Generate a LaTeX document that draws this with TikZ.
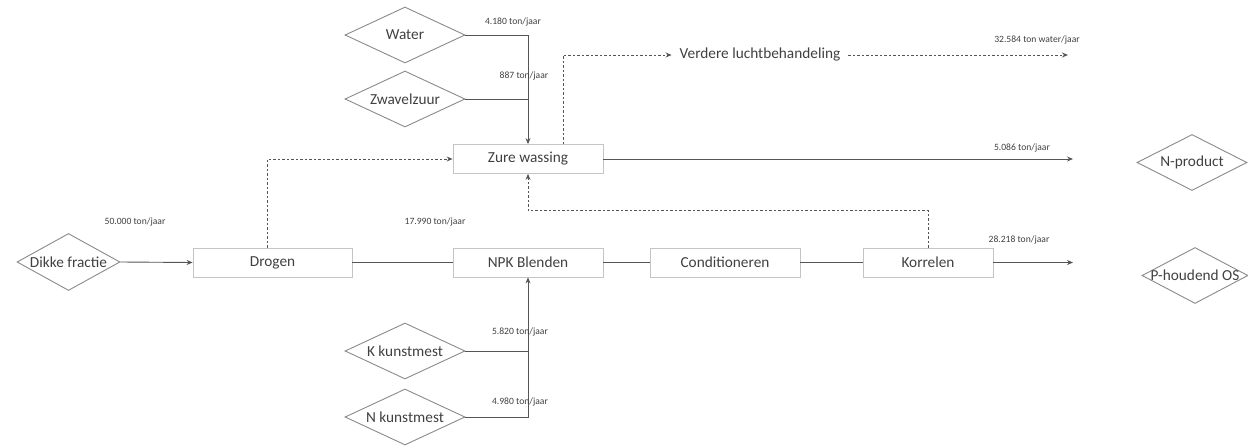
\documentclass[tikz,border=0pt]{standalone}
\usepackage{fontspec}
\setmainfont{Carlito}
\usetikzlibrary{arrows.meta,shapes.geometric}
\definecolor{txt}{HTML}{404040}
\definecolor{boxc}{HTML}{C4C4C4}
\definecolor{diac}{HTML}{8A8A8A}
\definecolor{linec}{HTML}{555555}
\newcommand\mainfs{\fontsize{15.3}{18}\selectfont}
\newcommand\smallfs{\fontsize{9.6}{12}\selectfont}
\newcommand\nowidth[1]{\makebox[0pt][c]{#1}}
\tikzset{
  stepbox/.style={draw=boxc, line width=0.8pt, minimum width=150pt, minimum height=29pt,
    inner sep=0pt, text=txt, font=\mainfs},
  io/.style={shape=diamond, draw=diac, line width=0.9pt, minimum width=#1, minimum height=56pt,
    inner sep=0pt, text=txt, font=\mainfs},
  io/.default=120pt,
  qty/.style={text=txt, font=\smallfs, inner sep=1pt},
  flowline/.style={draw=linec, line width=0.9pt},
  dashline/.style={draw=linec, line width=0.9pt, dash pattern=on 2.5pt off 2pt},
  tip/.style={-{Stealth[length=6pt,width=5pt]}},
}
\begin{document}
\begin{tikzpicture}[x=1pt,y=-1pt]
\useasboundingbox (0,0) rectangle (1248,447);

% process steps
\node[stepbox, minimum width=159pt] (drogen) at (272.5,262.5) {Drogen};
\node[stepbox] (zure) at (528,159) {Zure wassing};
\node[stepbox] (npk) at (528,262.5) {NPK Blenden};
\node[stepbox] (cond) at (725,262.5) {Conditioneren};
\node[stepbox, minimum width=130pt] (korrel) at (928,262.5) {Korrelen};

% inputs and outputs
\node[io=103pt, minimum height=57pt] (dikke) at (68.5,262) {\nowidth{Dikke fractie}};
\node[io] (water) at (405,35) {\nowidth{Water}};
\node[io] (zwavel) at (405,99) {\nowidth{Zwavelzuur}};
\node[io] (kkunst) at (405,351) {\nowidth{K kunstmest}};
\node[io] (nkunst) at (405,417) {\nowidth{N kunstmest}};
\node[io=110pt] (nprod) at (1192,162.5) {\nowidth{N-product}};
\node[io=106pt] (phoud) at (1195,275.5) {\nowidth{P-houdend OS}};
\node[text=txt, font=\mainfs, inner xsep=8pt, inner ysep=2pt] (verdere) at (760,55) {Verdere luchtbehandeling};

% free ends of outgoing flows
\coordinate (zureout) at (1073,159);
\coordinate (korrelout) at (1073,262.5);
\coordinate (verout) at (1068,55);

% main line
\draw[flowline, tip] (dikke.east) -- (drogen.west);
\draw[flowline] (drogen.east) -- (npk.west);
\draw[flowline] (npk.east) -- (cond.west);
\draw[flowline] (cond.east) -- (korrel.west);
\draw[flowline, tip] (korrel.east) -- (korrelout);
\draw[flowline, tip] (zure.east) -- (zureout);

% additions
\draw[flowline, tip] (water.east) -| (zure.north);
\draw[flowline] (zwavel.east) -- (zwavel.east -| zure.north);
\draw[flowline, tip] (nkunst.east) -| (npk.south);
\draw[flowline] (kkunst.east) -- (kkunst.east -| npk.south);

% air streams
\draw[dashline, tip] ([xshift=-5pt]drogen.north) |- (zure.west);
\draw[dashline, tip] (korrel.north) -- ++(0,-37) -| (zure.south);
\draw[dashline, tip] ([xshift=35pt]zure.north) |- (verdere.west);
\draw[dashline, tip] (verdere.east) -- (verout);

% quantities
\node[qty] (q1) at (513,22) {4.180 ton/jaar};
\node[qty] (q2) at (524,76) {887 ton/jaar};
\node[qty] (q3) at (1037,40) {32.584 ton water/jaar};
\node[qty] (q4) at (1022,148) {5.086 ton/jaar};
\node[qty] (q5) at (135,222) {50.000 ton/jaar};
\node[qty] (q6) at (435,222) {17.990 ton/jaar};
\node[qty] (q7) at (1019,240) {28.218 ton/jaar};
\node[qty] (q8) at (520,332) {5.820 ton/jaar};
\node[qty] (q9) at (520,402) {4.980 ton/jaar};
\end{tikzpicture}
\end{document}
